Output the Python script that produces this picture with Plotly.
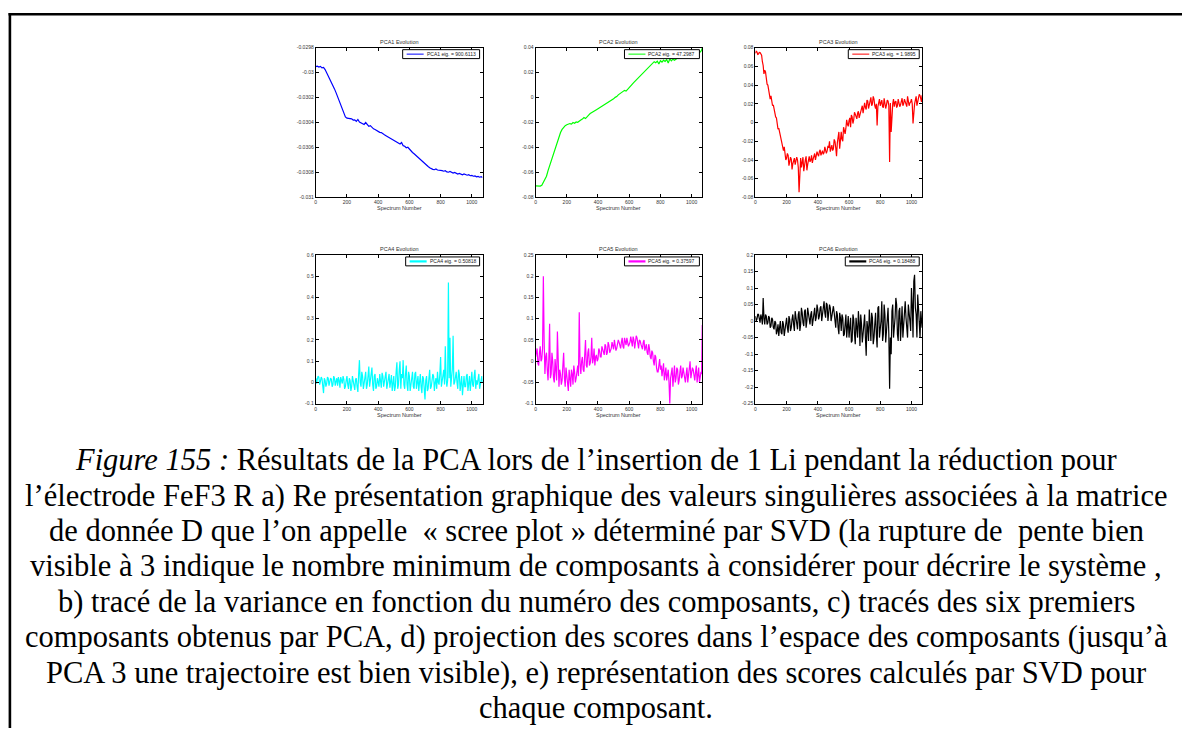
import plotly.graph_objects as go

W, H = 1190, 731

# ---------------- data ----------------
spectrum = list(range(0, 1061, 10)) + [1068]          # sampled spectra
spectrum_mid = list(range(5, 1056, 10)) + [1064]      # in-between spectra (noisy series)

pca1 = [
    -0.029952, -0.029948, -0.029955, -0.029950, -0.029962, -0.029958, -0.029975, -0.030000, -0.030025, -0.030045,
    -0.030075, -0.030100, -0.030130, -0.030160, -0.030195, -0.030230, -0.030260, -0.030300, -0.030335, -0.030355,
    -0.030365, -0.030368, -0.030372, -0.030370, -0.030380, -0.030378, -0.030390, -0.030375, -0.030395, -0.030400,
    -0.030405, -0.030415, -0.030400, -0.030420, -0.030430, -0.030425, -0.030440, -0.030450, -0.030455, -0.030465,
    -0.030470, -0.030478, -0.030480, -0.030492, -0.030498, -0.030505, -0.030512, -0.030520, -0.030528, -0.030535,
    -0.030540, -0.030550, -0.030555, -0.030565, -0.030572, -0.030560, -0.030585, -0.030590, -0.030602, -0.030598,
    -0.030615, -0.030628, -0.030640, -0.030650, -0.030662, -0.030675, -0.030688, -0.030700, -0.030712, -0.030722,
    -0.030735, -0.030745, -0.030752, -0.030762, -0.030770, -0.030775, -0.030778, -0.030772, -0.030780, -0.030782,
    -0.030778, -0.030785, -0.030790, -0.030786, -0.030795, -0.030798, -0.030792, -0.030802, -0.030805, -0.030800,
    -0.030808, -0.030812, -0.030808, -0.030815, -0.030818, -0.030812, -0.030820, -0.030822, -0.030818, -0.030826,
    -0.030824, -0.030830, -0.030828, -0.030835, -0.030832, -0.030838, -0.030834, -0.030840,
]

pca2 = [
    -0.0708, -0.0710, -0.0706, -0.0709, -0.0702, -0.0680, -0.0655, -0.0630, -0.0585, -0.0545,
    -0.0500, -0.0470, -0.0420, -0.0385, -0.0345, -0.0310, -0.0280, -0.0255, -0.0238, -0.0225,
    -0.0218, -0.0215, -0.0208, -0.0212, -0.0200, -0.0205, -0.0195, -0.0198, -0.0186, -0.0180,
    -0.0172, -0.0160, -0.0168, -0.0150, -0.0140, -0.0128, -0.0122, -0.0112, -0.0105, -0.0098,
    -0.0090, -0.0082, -0.0075, -0.0070, -0.0058, -0.0052, -0.0040, -0.0035, -0.0025, -0.0018,
    -0.0010, 0.0002, 0.0008, 0.0022, 0.0030, 0.0040, 0.0048, 0.0058, 0.0052, 0.0068,
    0.0078, 0.0095, 0.0108, 0.0122, 0.0135, 0.0148, 0.0160, 0.0175, 0.0188, 0.0200,
    0.0215, 0.0230, 0.0240, 0.0255, 0.0265, 0.0278, 0.0288, 0.0280, 0.0292, 0.0270,
    0.0295, 0.0285, 0.0300, 0.0290, 0.0305, 0.0278, 0.0310, 0.0295, 0.0308, 0.0300,
    0.0312, 0.0318, 0.0322, 0.0325, 0.0330, 0.0328, 0.0335, 0.0338, 0.0340, 0.0342,
    0.0345, 0.0348, 0.0350, 0.0352, 0.0355, 0.0360, 0.0372, 0.0395,
]

pca3 = [
    0.0740, 0.0755, 0.0732, 0.0748, 0.0720, 0.0610, 0.0560, 0.0470, 0.0400, 0.0300,
    0.0285, 0.0180, 0.0140, 0.0060, -0.0010, -0.0060, -0.0150, -0.0200, -0.0300, -0.0330,
    -0.0380, -0.0350, -0.0420, -0.0390, -0.0440, -0.0380, -0.0420, -0.0400, -0.0745, -0.0380,
    -0.0430, -0.0520, -0.0400, -0.0510, -0.0380, -0.0420, -0.0350, -0.0390, -0.0330, -0.0370,
    -0.0340, -0.0310, -0.0350, -0.0300, -0.0320, -0.0290, -0.0300, -0.0270, -0.0310, -0.0240,
    -0.0280, -0.0200, -0.0360, -0.0150, -0.0280, -0.0100, -0.0200, -0.0080, -0.0060, -0.0020,
    0.0020, -0.0050, 0.0060, 0.0030, 0.0090, 0.0040, 0.0120, 0.0080, 0.0150, 0.0100,
    0.0210, 0.0140, 0.0230, 0.0180, 0.0270, 0.0200, 0.0250, 0.0150, -0.0030, 0.0220,
    0.0180, 0.0240, 0.0160, 0.0220, 0.0190, 0.0230, -0.0420, -0.0100, 0.0200, 0.0170,
    0.0230, 0.0180, 0.0220, 0.0190, 0.0260, 0.0200, 0.0230, 0.0170, 0.0240, 0.0210,
    0.0250, -0.0010, 0.0200, 0.0280, 0.0220, 0.0300, 0.0250, 0.0290,
]
pca3_mid = [
    0.0762, 0.0728, 0.0750, 0.0735, 0.0650, 0.0520, 0.0540, 0.0410, 0.0360, 0.0250,
    0.0220, 0.0190, 0.0070, 0.0050, -0.0070, -0.0100, -0.0180, -0.0270, -0.0260, -0.0400,
    -0.0330, -0.0460, -0.0370, -0.0500, -0.0390, -0.0450, -0.0370, -0.0480, -0.0420, -0.0480,
    -0.0370, -0.0430, -0.0360, -0.0450, -0.0360, -0.0400, -0.0430, -0.0340, -0.0400, -0.0310,
    -0.0360, -0.0290, -0.0320, -0.0340, -0.0260, -0.0330, -0.0250, -0.0200, -0.0270, -0.0300,
    -0.0180, -0.0270, -0.0220, -0.0100, -0.0160, -0.0180, -0.0050, -0.0120, 0.0030, -0.0040,
    0.0050, 0.0080, -0.0010, 0.0110, 0.0050, 0.0100, 0.0050, 0.0120, 0.0180, 0.0160,
    0.0160, 0.0240, 0.0150, 0.0230, 0.0180, 0.0280, 0.0180, 0.0200, 0.0170, 0.0250,
    0.0210, 0.0170, 0.0260, 0.0150, 0.0240, 0.0180, 0.0210, 0.0160, 0.0250, 0.0220,
    0.0160, 0.0250, 0.0170, 0.0230, 0.0180, 0.0250, 0.0200, 0.0280, 0.0180, 0.0220,
    0.0200, 0.0150, 0.0240, 0.0180, 0.0260, 0.0290, 0.0220,
]

pca4 = [
    0.020, 0.015, 0.025, 0.005, 0.018, -0.050, 0.010, -0.005, 0.020, 0.000,
    0.015, -0.010, 0.020, 0.005, -0.015, 0.010, 0.025, -0.005, 0.015, -0.020,
    0.030, -0.030, 0.010, -0.020, 0.005, -0.035, 0.020, -0.045, 0.105, -0.020,
    0.030, 0.000, 0.050, -0.010, 0.075, 0.010, 0.070, -0.040, 0.040, -0.020,
    0.000, 0.040, -0.025, 0.030, 0.010, 0.050, -0.010, 0.040, 0.005, -0.040,
    0.030, -0.020, 0.095, -0.010, 0.100, 0.040, 0.105, -0.030, 0.080, -0.040,
    0.030, -0.010, 0.050, -0.030, 0.050, 0.000, -0.040, 0.040, -0.050, 0.020,
    -0.080, 0.030, -0.030, 0.060, -0.020, 0.040, -0.040, 0.020, 0.050, -0.010,
    0.120, 0.010, 0.060, 0.170, -0.020, 0.470, 0.210, 0.030, 0.220, 0.000,
    0.050, -0.030, 0.040, 0.000, -0.060, 0.030, -0.020, 0.040, 0.010, -0.040,
    0.050, -0.020, 0.060, 0.010, 0.030, -0.030, 0.020, 0.000,
]
pca4_mid = [
    -0.005, 0.030, -0.010, 0.025, -0.015, 0.020, -0.020, 0.025, -0.015, 0.020,
    -0.020, 0.030, -0.015, 0.020, 0.025, -0.025, 0.010, 0.030, -0.030, 0.010,
    -0.010, 0.020, -0.040, 0.030, -0.015, 0.015, -0.020, 0.040, 0.000, 0.050,
    -0.030, 0.020, -0.030, 0.030, -0.020, 0.040, -0.010, 0.030, -0.030, 0.020,
    -0.020, 0.000, 0.045, -0.020, 0.030, -0.030, 0.020, -0.025, 0.035, 0.010,
    -0.040, 0.050, -0.030, 0.060, -0.030, 0.020, -0.010, 0.040, -0.010, 0.050,
    -0.040, 0.030, -0.020, 0.040, -0.030, 0.030, 0.020, -0.020, 0.030, -0.030,
    0.010, -0.040, 0.020, -0.030, 0.010, 0.030, 0.000, -0.030, 0.000, 0.040,
    -0.020, 0.040, -0.010, 0.020, 0.010, 0.020, -0.020, 0.060, -0.010, 0.030,
    0.000, 0.060, -0.040, 0.030, 0.010, -0.020, 0.030, -0.040, 0.030, 0.010,
    -0.010, 0.030, -0.030, -0.010, 0.040, 0.000, 0.030,
]

pca5 = [
    0.010, 0.030, -0.010, 0.035, 0.005, 0.200, -0.030, 0.020, -0.045, 0.088,
    -0.030, 0.000, -0.050, -0.020, 0.070, -0.060, -0.030, -0.045, 0.020, -0.060,
    -0.035, -0.070, -0.040, -0.020, -0.055, -0.025, -0.040, -0.010, 0.115, -0.030,
    0.010, -0.025, 0.050, -0.015, 0.030, -0.005, 0.055, 0.005, -0.010, 0.015,
    0.005, 0.025, 0.010, 0.030, 0.015, 0.035, 0.020, 0.038, 0.025, 0.045,
    0.028, 0.040, 0.030, 0.050, 0.032, 0.045, 0.035, 0.055, 0.038, 0.048,
    0.040, 0.058, 0.035, 0.050, 0.042, 0.055, 0.030, 0.048, 0.035, 0.045,
    0.025, 0.040, 0.015, 0.030, 0.005, 0.020, -0.010, 0.010, -0.025, 0.000,
    -0.020, -0.035, -0.005, -0.030, -0.045, -0.020, -0.100, -0.030, -0.060, -0.010,
    -0.040, -0.020, -0.045, -0.010, -0.035, -0.025, -0.050, -0.015, -0.035, 0.000,
    -0.030, -0.020, -0.045, -0.010, -0.030, -0.050, -0.025, 0.085,
]
pca5_mid = [
    0.025, -0.005, 0.020, 0.000, 0.030, 0.050, 0.010, -0.020, 0.005, -0.040,
    0.020, -0.040, 0.005, -0.045, -0.010, -0.020, -0.055, -0.010, -0.040, -0.015,
    -0.050, -0.020, -0.060, -0.030, -0.010, -0.050, -0.015, -0.035, -0.005, 0.000,
    -0.020, 0.015, -0.010, 0.020, -0.010, 0.010, -0.005, 0.030, 0.010, 0.000,
    0.030, 0.010, 0.035, 0.020, 0.040, 0.015, 0.045, 0.020, 0.030, 0.035,
    0.050, 0.025, 0.040, 0.045, 0.030, 0.055, 0.030, 0.045, 0.055, 0.035,
    0.045, 0.040, 0.058, 0.030, 0.060, 0.038, 0.050, 0.040, 0.028, 0.050,
    0.035, 0.020, 0.040, 0.010, 0.025, 0.000, 0.015, -0.015, -0.025, 0.005,
    -0.010, -0.020, -0.045, -0.015, -0.030, -0.050, -0.040, -0.015, -0.035, -0.050,
    -0.015, -0.055, -0.025, -0.040, -0.015, -0.040, -0.030, -0.050, -0.020, -0.040,
    -0.015, -0.040, -0.025, -0.050, -0.015, -0.040, -0.030,
]

pca6 = [
    0.015, 0.005, 0.020, -0.005, 0.010, 0.070, -0.010, 0.015, -0.005, 0.010,
    -0.015, 0.005, -0.025, -0.005, -0.030, -0.045, 0.000, -0.040, -0.010, -0.030,
    0.010, -0.035, 0.005, -0.020, 0.020, -0.030, 0.015, -0.025, 0.030, -0.010,
    0.025, -0.015, 0.035, 0.000, 0.025, -0.010, 0.030, 0.005, 0.040, 0.010,
    0.035, 0.015, 0.045, 0.020, 0.060, 0.010, 0.050, 0.025, 0.040, 0.015,
    0.045, 0.000, 0.030, -0.020, 0.025, -0.030, 0.010, -0.040, 0.020, -0.015,
    -0.050, 0.010, -0.060, 0.005, -0.070, -0.020, 0.030, -0.075, -0.010, -0.040,
    0.020, -0.105, -0.020, 0.035, -0.060, 0.010, -0.050, 0.025, -0.080, 0.045,
    -0.030, 0.060, -0.040, 0.020, -0.030, 0.040, -0.205, -0.100, 0.050, -0.020,
    0.070, -0.040, 0.030, -0.060, 0.045, 0.000, 0.060, -0.030, 0.050, 0.000,
    0.100, -0.050, 0.140, 0.020, 0.080, -0.040, 0.030, -0.020,
]
pca6_mid = [
    0.000, 0.020, 0.005, 0.020, -0.010, 0.010, 0.020, -0.010, 0.015, -0.020,
    0.010, -0.020, 0.000, -0.040, -0.010, -0.020, -0.035, 0.000, -0.045, -0.005,
    -0.020, 0.015, -0.030, 0.005, -0.010, 0.030, -0.010, 0.020, -0.030, 0.040,
    -0.005, 0.030, -0.020, 0.040, 0.010, 0.020, -0.015, 0.030, 0.000, 0.050,
    0.005, 0.040, 0.000, 0.045, 0.025, 0.055, 0.000, 0.050, 0.000, 0.035,
    0.025, -0.020, 0.020, -0.040, 0.010, 0.020, -0.045, 0.000, -0.050, 0.015,
    -0.020, -0.065, 0.020, -0.040, 0.010, -0.050, -0.005, 0.020, -0.065, 0.010,
    -0.050, 0.000, -0.060, -0.010, 0.025, -0.070, -0.010, -0.040, 0.040, -0.050,
    0.000, -0.060, 0.050, -0.065, 0.010, -0.040, -0.050, 0.030, -0.050, 0.010,
    0.050, -0.060, 0.040, -0.010, -0.050, 0.050, 0.010, -0.050, 0.030, -0.030,
    0.050, 0.120, 0.040, -0.050, 0.040, -0.050, 0.010,
]

series = [pca1, pca2, pca3, pca4, pca5, pca6]
series_mid = [None, None, pca3_mid, pca4_mid, pca5_mid, pca6_mid]
titles = ["PCA1 Evolution", "PCA2 Evolution", "PCA3 Evolution",
          "PCA4 Evolution", "PCA5 Evolution", "PCA6 Evolution"]
legend_labels = ["PCA1 eig. = 900.6113", "PCA2 eig. = 47.2987", "PCA3 eig. = 1.9895",
                 "PCA4 eig. = 0.50818", "PCA5 eig. = 0.37597", "PCA6 eig. = 0.18488"]
x_label = "Spectrum Number"
x_ticks = [0, 200, 400, 600, 800, 1000]
y_ranges = [(-0.031, -0.0298), (-0.08, 0.04), (-0.08, 0.08),
            (-0.1, 0.6), (-0.1, 0.25), (-0.25, 0.2)]
y_tickvals = [
    [-0.031, -0.0308, -0.0306, -0.0304, -0.0302, -0.03, -0.0298],
    [-0.08, -0.06, -0.04, -0.02, 0, 0.02, 0.04],
    [-0.08, -0.06, -0.04, -0.02, 0, 0.02, 0.04, 0.06, 0.08],
    [-0.1, 0, 0.1, 0.2, 0.3, 0.4, 0.5, 0.6],
    [-0.1, -0.05, 0, 0.05, 0.1, 0.15, 0.2, 0.25],
    [-0.25, -0.2, -0.15, -0.1, -0.05, 0, 0.05, 0.1, 0.15, 0.2],
]
y_ticktext = [
    ["-0.031", "-0.0308", "-0.0306", "-0.0304", "-0.0302", "-0.03", "-0.0298"],
    ["-0.08", "-0.06", "-0.04", "-0.02", "0", "0.02", "0.04"],
    ["-0.08", "-0.06", "-0.04", "-0.02", "0", "0.02", "0.04", "0.06", "0.08"],
    ["-0.1", "0", "0.1", "0.2", "0.3", "0.4", "0.5", "0.6"],
    ["-0.1", "-0.05", "0", "0.05", "0.1", "0.15", "0.2", "0.25"],
    ["-0.25", "-0.2", "-0.15", "-0.1", "-0.05", "0", "0.05", "0.1", "0.15", "0.2"],
]
caption_lines = [
    "<i>Figure 155 :</i> Résultats de la PCA lors de l’insertion de 1 Li pendant la réduction pour",
    "l’électrode FeF3 R a) Re présentation graphique des valeurs singulières associées à la matrice",
    "de donnée D que l’on appelle  « scree plot » déterminé par SVD (la rupture de  pente bien",
    "visible à 3 indique le nombre minimum de composants à considérer pour décrire le système ,",
    "b) tracé de la variance en fonction du numéro des composants, c) tracés des six premiers",
    "composants obtenus par PCA, d) projection des scores dans l’espace des composants (jusqu’à",
    "PCA 3 une trajectoire est bien visible), e) représentation des scores calculés par SVD pour",
    "chaque composant.",
]

# ---------------- styling / layout (pixel positions in the page) ----------------
colors = ["#0000ff", "#00ff00", "#ff0000", "#00ffff", "#ff00ff", "#000000"]
col_px = [(315, 482), (535, 702), (755, 922)]
row_px = [(45, 196), (254, 404)]
legend_w = [77, 75, 71, 74, 75, 74]
legend_lw = [1, 1, 1, 2.2, 2.2, 2.2]
caption_y0, caption_dy = 461, 35.7
SANS = "Liberation Sans, Arial, sans-serif"
SERIF = "Liberation Serif, Times New Roman, serif"

OFF = 8                    # default page body margin
FW, FH = W - OFF, H - OFF  # figure size so that it fits the window


def fx(p):
    return (p - OFF) / FW


def fy(p):
    return 1 - (p - OFF) / FH


def merge(xs, ys, xm, ym):
    if ym is None:
        return xs, ys
    ox, oy = [], []
    for k in range(len(xm)):
        ox += [xs[k], xm[k]]
        oy += [ys[k], ym[k]]
    ox += xs[len(xm):]
    oy += ys[len(xm):]
    return ox, oy


fig = go.Figure()
annotations = []
shapes = []
layout = {}

for i, ys in enumerate(series):
    r, c = divmod(i, 3)
    x0, x1 = col_px[c]
    t, b = row_px[r]
    n = i + 1
    xa = "x" if n == 1 else f"x{n}"
    ya = "y" if n == 1 else f"y{n}"
    px_, py_ = merge(spectrum, ys, spectrum_mid, series_mid[i])
    fig.add_trace(go.Scatter(
        x=px_, y=py_, mode="lines", xaxis=xa, yaxis=ya,
        line=dict(color=colors[i], width=1.2), showlegend=False,
        hoverinfo="skip",
    ))
    common = dict(showline=True, linecolor="black", linewidth=1, mirror="ticks",
                  ticks="inside", ticklen=3, tickwidth=1, tickcolor="black",
                  showgrid=False, zeroline=False,
                  tickfont=dict(family=SANS, size=5, color="#333333"))
    layout["xaxis" if n == 1 else f"xaxis{n}"] = dict(
        domain=[fx(x0), fx(x1)], anchor=ya, range=[0, 1069],
        tickvals=x_ticks, ticktext=[str(v) for v in x_ticks], **common)
    layout["yaxis" if n == 1 else f"yaxis{n}"] = dict(
        domain=[fy(b), fy(t)], anchor=xa, range=list(y_ranges[i]),
        tickvals=y_tickvals[i], ticktext=y_ticktext[i], **common)

    cx = (x0 + x1) / 2
    annotations.append(dict(text=titles[i], x=fx(cx), y=fy(t - 6), xref="paper", yref="paper",
                            showarrow=False, xanchor="center", yanchor="middle",
                            font=dict(family=SANS, size=5.5, color="#333333")))
    annotations.append(dict(text=x_label, x=fx(cx), y=fy(b + 11), xref="paper", yref="paper",
                            showarrow=False, xanchor="center", yanchor="middle",
                            font=dict(family=SANS, size=5.5, color="#333333")))
    # legend box
    lx1 = x1 - 3
    lx0 = lx1 - legend_w[i]
    ly0 = t + 2
    ly1 = t + 11
    shapes.append(dict(type="rect", xref="paper", yref="paper",
                       x0=fx(lx0), x1=fx(lx1), y0=fy(ly1), y1=fy(ly0),
                       line=dict(color="black", width=1), fillcolor="white", layer="above"))
    shapes.append(dict(type="line", xref="paper", yref="paper",
                       x0=fx(lx0 + 4), x1=fx(lx0 + 21), y0=fy((ly0 + ly1) / 2), y1=fy((ly0 + ly1) / 2),
                       line=dict(color=colors[i], width=legend_lw[i]), layer="above"))
    annotations.append(dict(text=legend_labels[i], x=fx(lx0 + 22), y=fy((ly0 + ly1) / 2),
                            xref="paper", yref="paper", showarrow=False,
                            xanchor="left", yanchor="middle",
                            font=dict(family=SANS, size=5, color="#222222")))

for k, line in enumerate(caption_lines):
    annotations.append(dict(text=line, x=fx(595.5), y=fy(caption_y0 + k * caption_dy),
                            xref="paper", yref="paper",
                            showarrow=False, xanchor="center", yanchor="middle",
                            font=dict(family=SERIF, size=30.5, color="black")))

# frame (top and left edges)
shapes.append(dict(type="line", xref="paper", yref="paper", x0=fx(7.5), x1=fx(1183),
                   y0=fy(11.3), y1=fy(11.3), line=dict(color="black", width=2.6)))
shapes.append(dict(type="line", xref="paper", yref="paper", x0=fx(8.9), x1=fx(8.9),
                   y0=fy(10), y1=fy(H), line=dict(color="black", width=2.6)))

fig.update_layout(
    width=FW, height=FH, margin=dict(l=0, r=0, t=0, b=0),
    paper_bgcolor="white", plot_bgcolor="white",
    annotations=annotations, shapes=shapes, showlegend=False,
    **layout,
)

fig.write_html("out.html")
